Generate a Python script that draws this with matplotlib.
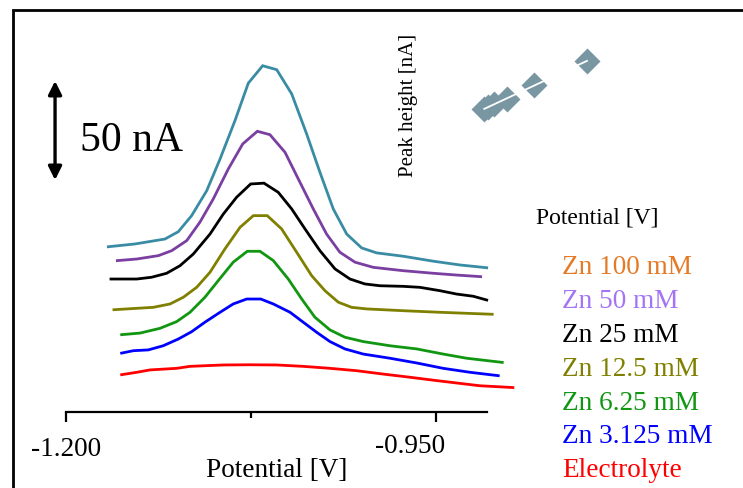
import numpy as np
import matplotlib
matplotlib.use("Agg")
import matplotlib.pyplot as plt
import matplotlib.transforms as mtransforms
from matplotlib.patches import Rectangle

# === DATA (potential in V, current in nA) ====================================
zn100_v = [-1.1714, -1.1534, -1.1331, -1.1241, -1.1151, -1.1049, -1.0959, -1.0858,
           -1.0768, -1.0671, -1.0576, -1.0475, -1.0374, -1.0284, -1.0194, -1.0103,
           -1.0002, -0.9901, -0.9721, -0.9518, -0.9338, -0.9157]
zn100_i = [83.3, 84.7, 87.2, 90.9, 99.0, 111.6, 127.6, 147.0, 165.9, 174.7, 172.7,
           160.5, 140.3, 120.9, 102.4, 89.7, 82.7, 80.2, 78.5, 76.0, 74.1, 72.7]

zn50_v = [-1.1653, -1.1522, -1.1376, -1.1286, -1.1184, -1.1095, -1.1005, -1.0903,
          -1.0806, -1.0707, -1.0622, -1.0520, -1.0430, -1.0329, -1.0239, -1.0149,
          -1.0047, -0.9924, -0.9721, -0.9518, -0.9360, -0.9198]
zn50_i = [76.3, 77.1, 78.8, 81.3, 86.4, 95.7, 107.4, 122.6, 135.2, 141.6, 139.9,
          131.0, 117.5, 102.4, 89.7, 80.5, 75.5, 72.9, 71.2, 69.9, 69.0, 68.2]

zn25_v = [-1.1696, -1.1522, -1.1421, -1.1320, -1.1230, -1.1140, -1.1027, -1.0937,
          -1.0847, -1.0752, -1.0662, -1.0566, -1.0475, -1.0385, -1.0284, -1.0182,
          -1.0081, -0.9980, -0.9878, -0.9721, -0.9608, -0.9473, -0.9360, -0.9248,
          -0.9157]
zn25_i = [67.0, 67.0, 67.9, 69.9, 73.7, 79.6, 89.7, 99.8, 108.3, 115.0, 115.4,
          110.8, 102.4, 92.3, 81.3, 72.1, 67.0, 64.5, 63.6, 63.3, 62.8, 61.1,
          59.4, 58.3, 56.4]

zn12_v = [-1.1676, -1.1522, -1.1410, -1.1297, -1.1207, -1.1117, -1.1027, -1.0926,
          -1.0824, -1.0734, -1.0640, -1.0543, -1.0441, -1.0340, -1.0250, -1.0160,
          -1.0070, -0.9968, -0.9721, -0.9473, -0.9120]
zn12_i = [51.5, 52.2, 52.7, 54.4, 57.8, 62.8, 70.4, 82.2, 93.1, 99.0, 99.0, 92.3,
          80.5, 68.7, 61.1, 55.3, 52.7, 51.9, 51.0, 50.2, 49.2]

zn6_v = [-1.1624, -1.1500, -1.1365, -1.1252, -1.1162, -1.1061, -1.0971, -1.0870,
         -1.0775, -1.0689, -1.0599, -1.0498, -1.0407, -1.0318, -1.0216, -1.0115,
         -0.9991, -0.9811, -0.9630, -0.9451, -0.9293, -0.9052]
zn6_i = [38.9, 39.7, 42.1, 45.5, 50.2, 57.8, 66.2, 75.5, 81.0, 81.0, 76.3, 67.0,
         56.9, 47.7, 41.3, 37.6, 35.4, 33.3, 31.7, 29.1, 27.0, 24.9]

zn3_v = [-1.1624, -1.1545, -1.1444, -1.1343, -1.1241, -1.1151, -1.1061, -1.0959,
         -1.0870, -1.0779, -1.0684, -1.0599, -1.0486, -1.0397, -1.0306, -1.0216,
         -1.0115, -0.9991, -0.9811, -0.9630, -0.9451, -0.9270, -0.9079]
zn3_i = [29.6, 30.8, 31.2, 33.3, 36.7, 40.4, 45.2, 50.2, 54.4, 56.9, 56.9, 54.4,
         50.2, 45.2, 40.1, 35.4, 31.7, 29.1, 27.0, 24.6, 21.9, 19.9, 18.2]

elec_v = [-1.1624, -1.1522, -1.1432, -1.1252, -1.1162, -1.0937, -1.0757, -1.0576,
          -1.0397, -1.0216, -1.0036, -0.9856, -0.9676, -0.9495, -0.9338, -0.9203,
          -0.8980]
elec_i = [18.7, 19.9, 21.1, 21.9, 22.9, 23.6, 23.7, 23.6, 22.9, 21.9, 20.7, 19.0,
          17.4, 15.7, 14.3, 13.1, 12.2]

curves = [(zn100_v, zn100_i, "#3a8ca4"),
          (zn50_v, zn50_i, "#7a3fa0"),
          (zn25_v, zn25_i, "black"),
          (zn12_v, zn12_i, "#808000"),
          (zn6_v, zn6_i, "#119611"),
          (zn3_v, zn3_i, "#0000ff"),
          (elec_v, elec_i, "#ff0000")]

legend_labels = ["Zn 100 mM", "Zn 50 mM", "Zn 25 mM", "Zn 12.5 mM",
                 "Zn 6.25 mM", "Zn 3.125 mM", "Electrolyte"]
legend_colors = ["#e57a26", "#a374f5", "black", "#808000",
                 "#119611", "#0000ff", "#ff0000"]

# inset: peak height vs Zn concentration
inset_conc = [3.125, 6.25, 12.5, 25, 50, 100]
inset_peak = [20, 22, 25, 30, 44, 68]

# === FIGURE ==================================================================
plt.rcParams['font.family'] = ['Liberation Serif', 'DejaVu Serif']
W, H = 743, 489
fig = plt.figure(figsize=(W / 100, H / 100), dpi=100)

# main axes, pixel box: x 66..487, y 40..412.7 (from top)
ax = fig.add_axes([66 / W, (H - 412.7) / H, (487 - 66) / W, (412.7 - 40) / H])
ax.set_xlim(-1.2, -0.9155)
ax.set_ylim(0, 188.2)
for v, i, c in curves:
    ax.plot(v, i, color=c, lw=2.0, clip_on=False, solid_joinstyle='miter')

for s in ['top', 'right', 'left']:
    ax.spines[s].set_visible(False)
ax.spines['bottom'].set_linewidth(1.6)
ax.set_yticks([])
ax.set_xticks([-1.2, -0.95])
ax.set_xticklabels(['-1.200', '-0.950'], fontsize=19.6)
ax.set_xticks([-1.075], minor=True)
ax.tick_params(axis='x', which='major', direction='out', length=7.5, width=1.6, pad=10)
ax.tick_params(axis='x', which='minor', direction='out', length=4.5, width=1.6)
lbl = ax.xaxis.get_major_ticks()[1].label1
lbl.set_transform(lbl.get_transform() +
                  mtransforms.ScaledTranslation(-0.26, 0.03, fig.dpi_scale_trans))
ax.set_xlabel("Potential [V]", fontsize=19.6)
ax.xaxis.set_label_coords(0.5, -0.121)

# 50 nA scale bar
ax.annotate('', xy=(-1.2074, 167), xytext=(-1.2074, 117),
            arrowprops=dict(arrowstyle='<|-|>', lw=2.4, color='black',
                            mutation_scale=20, shrinkA=0, shrinkB=0),
            annotation_clip=False)
ax.text(-1.1554, 137.5, "50 nA", fontsize=30, ha='center', va='center')

# === INSET ===================================================================
ins = fig.add_axes([460 / W, (H - 130) / H, 150 / W, 90 / H])
ins.set_xlim(-19.8, 121.7)
ins.set_ylim(0, 90)
ins.axis('off')
ins.plot(inset_conc, inset_peak, 'D', color='#7897a3', ms=13, mec='none')
fit = np.polyfit(inset_conc, inset_peak, 1)
xx = np.array([min(inset_conc), max(inset_conc)])
ins.plot(xx, np.polyval(fit, xx), color='white', lw=1.3)
fig.text(408 / W, 1 - 105 / H, "Peak height [nA]", rotation=90,
         fontsize=15, ha='center', va='center')
fig.text(597 / W, 1 - 218 / H, "Potential [V]", fontsize=17,
         ha='center', va='center')

# === LEGEND (coloured text) ==================================================
for k, (lab, col) in enumerate(zip(legend_labels, legend_colors)):
    fig.text(562 / W, 1 - (268 + 33.8 * k) / H, lab, color=col,
             fontsize=19.6, ha='left', va='center')

# outer frame (left + top edge visible)
fig.add_artist(Rectangle((13 / W, -0.1), 1.2, 1.1 - 11 / H, transform=fig.transFigure,
                         fill=False, lw=2.0, ec='black'))

fig.savefig("out.png", dpi=100)
